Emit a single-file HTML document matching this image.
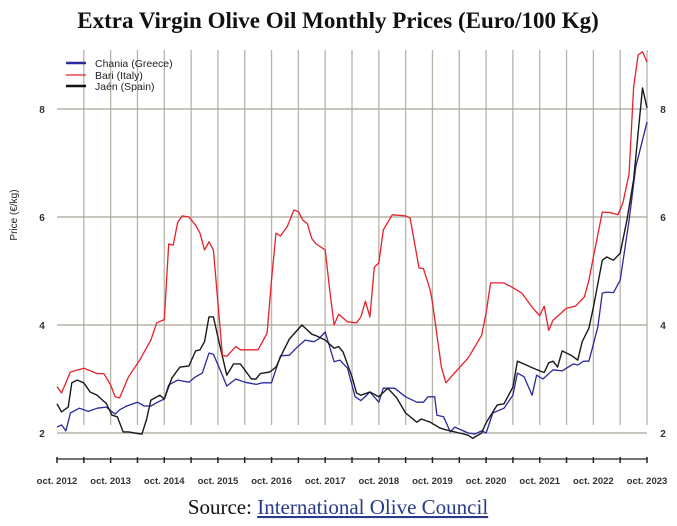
<!DOCTYPE html>
<html><head><meta charset="utf-8"><style>
body{margin:0;background:#fff;width:677px;height:526px;overflow:hidden;}
svg{display:block}
</style></head><body>
<svg width="677" height="526" id="chart">
<text x="338" y="28" text-anchor="middle" font-family="Liberation Serif, serif" font-weight="bold" font-size="23" fill="#111">Extra Virgin Olive Oil Monthly Prices (Euro/100 Kg)</text>
<g id="grid"></g>
<g id="axes"></g>
<g id="series"></g>
<text transform="translate(17,215) rotate(-90)" text-anchor="middle" font-family="Liberation Sans, sans-serif" font-size="10" fill="#222">Price (€/kg)</text>
<g font-family="Liberation Sans, sans-serif" font-size="10.5" fill="#222">
<g><line x1="66" y1="63" x2="86" y2="63" stroke="#2a2a9a" stroke-width="2.5"/><text x="95" y="67">Chania (Greece)</text></g>
<g><line x1="66" y1="75" x2="86" y2="75" stroke="#e8202a" stroke-width="1.2"/><text x="95" y="79">Bari (Italy)</text></g>
<g><line x1="66" y1="86" x2="86" y2="86" stroke="#111" stroke-width="2.5"/><text x="95" y="90">Jaén (Spain)</text></g>
</g>
<text x="338" y="514" text-anchor="middle" font-family="Liberation Serif, serif" font-size="21" fill="#111">Source: <tspan fill="#2a3a8a" text-decoration="underline">International Olive Council</tspan></text>
</svg>
<script>
const yTicks=[2,4,6,8];
const xTickLabels=["oct. 2012","oct. 2013","oct. 2014","oct. 2015","oct. 2016","oct. 2017","oct. 2018","oct. 2019","oct. 2020","oct. 2021","oct. 2022","oct. 2023"];
const bariMonths=[0,1,3,6,9,10.5,12,13,14,16,18.5,21,22.3,24,25,26,27,28,29.5,31,32,33,34,35,37,38,40,41,45,47,48,49,50,51.5,53,54,55,56,57,58,60,61,62,63,65,67,68,69,70,71,72,73,75,78,79,81,82,83.5,84,86,87,88.5,92,95,96,97,100,102,104,106.5,108,109,110,111,114,116,118,119,120,122,124,125.5,126.6,128,129,130,131,132];
const bariValues=[2.86,2.74,3.13,3.2,3.1,3.1,2.89,2.67,2.65,3.04,3.35,3.72,4.04,4.1,5.5,5.48,5.9,6.02,6.0,5.85,5.7,5.39,5.54,5.39,3.44,3.42,3.6,3.54,3.54,3.85,4.83,5.7,5.65,5.82,6.13,6.1,5.94,5.88,5.6,5.5,5.39,4.65,4.0,4.2,4.06,4.04,4.15,4.44,4.15,5.07,5.15,5.76,6.04,6.02,5.98,5.06,5.04,4.65,4.41,3.22,2.93,3.07,3.39,3.81,4.22,4.78,4.78,4.69,4.59,4.31,4.17,4.35,3.9,4.09,4.31,4.35,4.52,4.83,5.26,6.09,6.08,6.04,6.26,6.8,8.4,9.0,9.06,8.87];
const jaenMonths=[0,1,2.5,3.3,4.5,6,7.4,9,10.3,11,12.3,13.5,14.8,16,18,19,20,21,23,24,25.7,27.5,29.5,31,32,33,34,35,36.5,38,39.5,41,42,43.5,44.5,45.5,47.6,49,50.3,52,54.8,57,58,60,62,63,64,66,67,68,70,72,74,76,78,80.5,81.5,83.5,85.7,87,90,92,93,95,96,98.5,100,102,103,105,106,108,109,110,111,112,113,115,116.5,117.5,119,120,122,123,124.5,126,127.5,129,131,132];
const jaenValues=[2.54,2.39,2.48,2.93,2.98,2.93,2.76,2.7,2.6,2.55,2.33,2.3,2.02,2.02,1.99,1.98,2.24,2.61,2.7,2.63,3.02,3.22,3.24,3.52,3.54,3.69,4.15,4.15,3.6,3.07,3.28,3.28,3.17,3.0,3.0,3.1,3.13,3.22,3.46,3.74,4.0,3.83,3.8,3.72,3.57,3.6,3.5,3.04,2.74,2.7,2.76,2.67,2.83,2.65,2.37,2.2,2.26,2.2,2.09,2.06,2.0,1.96,1.9,2.0,2.19,2.52,2.54,2.85,3.33,3.26,3.22,3.15,3.12,3.3,3.33,3.22,3.52,3.44,3.35,3.69,3.94,4.33,5.2,5.26,5.2,5.33,5.94,6.69,8.39,8.02];
const chaniaMonths=[0,1,2,3,5,7,9,11,13,14,15.6,18,19.5,21,22.5,24,25,27,29.5,31,32.5,34,35,36.5,38,40,42,44.6,46,48,50,52,53.5,55.5,57.5,58.5,60,62,63.3,65,66.7,68,70,72,73,75.5,78,80.5,82,83,84.5,85,86.5,88,89,92,93.5,95,96,97.5,100,102,103,104.5,106.3,107.3,108.7,111,113,115.5,116.5,117.8,119,121,122,123,124.5,126,128,129.5,132];
const chaniaValues=[2.11,2.15,2.04,2.37,2.46,2.4,2.46,2.48,2.35,2.43,2.5,2.57,2.5,2.5,2.57,2.63,2.89,2.98,2.94,3.04,3.11,3.48,3.46,3.17,2.87,3.0,2.94,2.9,2.93,2.93,3.43,3.44,3.57,3.72,3.69,3.74,3.87,3.32,3.35,3.2,2.67,2.6,2.76,2.57,2.83,2.83,2.67,2.57,2.57,2.67,2.67,2.33,2.3,2.02,2.11,2.0,1.98,2.04,2.0,2.37,2.46,2.7,3.11,3.04,2.7,3.07,3.0,3.17,3.15,3.28,3.26,3.33,3.33,3.96,4.59,4.61,4.6,4.83,5.94,6.93,7.76];

const NS='http://www.w3.org/2000/svg';
const X0=57,PXM=590/132,Y2=433,PXU=54;
function xS(m){return X0+m*PXM;}
function yS(v){return Y2-(v-2)*PXU;}
function mk(tag,attrs,parent){const e=document.createElementNS(NS,tag);for(const k in attrs)e.setAttribute(k,attrs[k]);parent.appendChild(e);return e;}
const grid=document.getElementById('grid'),axes=document.getElementById('axes'),ser=document.getElementById('series');
for(let i=1;i<=22;i++){
  const l=mk('line',{x1:xS(i*6),x2:xS(i*6),y1:50,y2:425,stroke:'#b8b4a8','stroke-width':1.3},grid);
  
  
}
yTicks.forEach(v=>{
  const l=mk('line',{x1:X0,x2:xS(132),y1:yS(v),y2:yS(v),stroke:'#a9a597','stroke-width':1.2},grid);
  
  
  const t1=mk('text',{x:42,y:yS(v)+4,'text-anchor':'middle','font-family':'Liberation Sans, sans-serif','font-size':10,'font-weight':'bold',fill:'#333'},axes);
  t1.textContent=v;
  
  
  const t2=mk('text',{x:663,y:yS(v)+4,'text-anchor':'middle','font-family':'Liberation Sans, sans-serif','font-size':10,'font-weight':'bold',fill:'#333'},axes);
  t2.textContent=v;
  
  
});
const ax=mk('line',{x1:X0,x2:xS(132),y1:459,y2:459,stroke:'#222','stroke-width':1.2},axes);


for(let i=0;i<=22;i++){
  const tk=mk('line',{x1:xS(i*6),x2:xS(i*6),y1:457,y2:463,stroke:'#222','stroke-width':1.5},axes);
  
  
}
xTickLabels.forEach((s,i)=>{
  const t=mk('text',{x:xS(i*12),y:484,'text-anchor':'middle','font-family':'Liberation Sans, sans-serif','font-size':9.5,'font-weight':'bold',fill:'#333'},axes);
  t.textContent=s;
  
  
});
function line(ms,vs,color,w,name){
  const d=ms.map((m,i)=>(i?'L':'M')+xS(m).toFixed(1)+','+yS(vs[i]).toFixed(1)).join('');
  const p=mk('path',{d:d,fill:'none',stroke:color,'stroke-width':w,'stroke-linejoin':'round'},ser);
  
  
}
line(chaniaMonths,chaniaValues,'#2a2a9a',1.3,'line-chania');
line(jaenMonths,jaenValues,'#1a1a1a',1.4,'line-jaen');
line(bariMonths,bariValues,'#e8202a',1.3,'line-bari');
</script>
</body></html>
